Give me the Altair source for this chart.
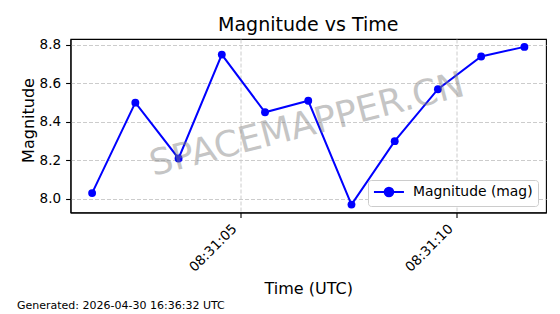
import altair as alt
import pandas as pd

# ---- data ----
times = [
    "2026-04-30T08:31:01.572Z", "2026-04-30T08:31:02.572Z", "2026-04-30T08:31:03.572Z",
    "2026-04-30T08:31:04.572Z", "2026-04-30T08:31:05.572Z", "2026-04-30T08:31:06.572Z",
    "2026-04-30T08:31:07.572Z", "2026-04-30T08:31:08.572Z", "2026-04-30T08:31:09.572Z",
    "2026-04-30T08:31:10.572Z", "2026-04-30T08:31:11.572Z",
]
magnitudes = [8.03, 8.50, 8.21, 8.75, 8.45, 8.51, 7.97, 8.30, 8.57, 8.74, 8.79]
series_name = "Magnitude (mag)"
x_tick_times = ["2026-04-30T08:31:05Z", "2026-04-30T08:31:10Z"]
y_ticks = [8.0, 8.2, 8.4, 8.6, 8.8]
title_text = "Magnitude vs Time"
x_title = "Time (UTC)"
y_title = "Magnitude"
footer_text = "Generated: 2026-04-30 16:36:32 UTC"
watermark_text = "SPACEMAPPER.CN"

df = pd.DataFrame({"t": times, "mag": magnitudes, "series": series_name})

# matplotlib-like 5% margins
ts = pd.to_datetime(pd.Series(times), utc=True)
ms = (ts.astype("int64") // 10**6).tolist()
span = ms[-1] - ms[0]
x_dom = [ms[0] - 0.05 * span, ms[-1] + 0.05 * span]
lo, hi = min(magnitudes), max(magnitudes)
y_dom = [lo - 0.05 * (hi - lo), hi + 0.05 * (hi - lo)]
x_vals = (pd.to_datetime(pd.Series(x_tick_times), utc=True).astype("int64") // 10**6).tolist()

FONT = "DejaVu Sans"
W, H = 475.5, 173.5

x_enc = alt.X(
    "t:T",
    scale=alt.Scale(type="utc", domain=x_dom, nice=False),
    axis=alt.Axis(
        title=x_title, values=x_vals,
        labelExpr="utcFormat(datum.value, '%H:%M:%S')",
        labelAngle=-45, labelAlign="right", labelBaseline="top", labelPadding=4,
        labelOffset=-11,
        labelLimit=0, labelFlush=False, labelOverlap=False,
        titleY=81, titleBaseline="alphabetic", titleFontSize=16,
    ),
)
y_enc = alt.Y(
    "mag:Q",
    scale=alt.Scale(domain=y_dom, nice=False, zero=False),
    axis=alt.Axis(
        title=y_title, values=y_ticks, format=".1f", labelPadding=5,
        titleX=-37, titleY=81, titleAngle=-90, titleBaseline="alphabetic",
        titleAlign="center", titleFontSize=16,
    ),
)

line = alt.Chart(df).mark_line(color="blue", strokeWidth=2).encode(x=x_enc, y=y_enc)
points = alt.Chart(df).mark_point(filled=True, shape="circle", size=62, opacity=1).encode(
    x=x_enc, y=y_enc,
    color=alt.Color(
        "series:N", scale=alt.Scale(range=["blue"]),
        legend=alt.Legend(
            title=None, orient="none", legendX=297.5, legendY=141,
            symbolType="M-3,0L3,0M0.86,0A0.86,0.86,0,1,1,-0.86,0A0.86,0.86,0,1,1,0.86,0Z",
            symbolSize=100, symbolStrokeColor="blue", symbolStrokeWidth=2,
            symbolFillColor="blue", symbolOffset=9, labelOffset=17,
            labelFontSize=13.9, labelFont=FONT, labelColor="black",
            padding=5, fillColor="white", strokeColor="#cccccc",
            cornerRadius=3,
        ),
    ),
)

wm_df = pd.DataFrame({"txt": [watermark_text]})
watermark = alt.Chart(wm_df).mark_text(
    fontSize=36, font=FONT, color="gray", opacity=0.45, angle=345.5,
    align="center", baseline="middle",
).encode(text="txt:N", x=alt.value(236.5), y=alt.value(86))

ft_df = pd.DataFrame({"txt": [footer_text]})
footer = alt.Chart(ft_df).mark_text(
    fontSize=11, font=FONT, color="black", align="left", baseline="alphabetic",
).encode(text="txt:N", x=alt.value(-53.5), y=alt.value(269.5))

chart = alt.layer(line, points, watermark, footer).properties(
    width=W, height=H,
    title=alt.TitleParams(title_text, fontSize=19, font=FONT, fontWeight="normal",
                          anchor="middle", baseline="alphabetic", offset=-12,
                          frame="group", color="black"),
    autosize=alt.AutoSizeParams(type="none"),
    padding={"left": 70.5, "top": 39, "right": 14, "bottom": 101.5},
    background="white",
).configure_view(
    stroke="black", strokeWidth=1.1,
).configure_axis(
    labelFont=FONT, titleFont=FONT, labelFontSize=13.5, labelColor="black",
    titleColor="black", titleFontWeight="normal",
    domainColor="black", domainWidth=1.1, tickColor="black", tickSize=4.9, tickWidth=1.1,
    grid=True, gridColor="#cccccc", gridDash=[4, 2], gridWidth=1,
)

chart.save("out.html", embed_options={"renderer": "svg", "actions": False})
